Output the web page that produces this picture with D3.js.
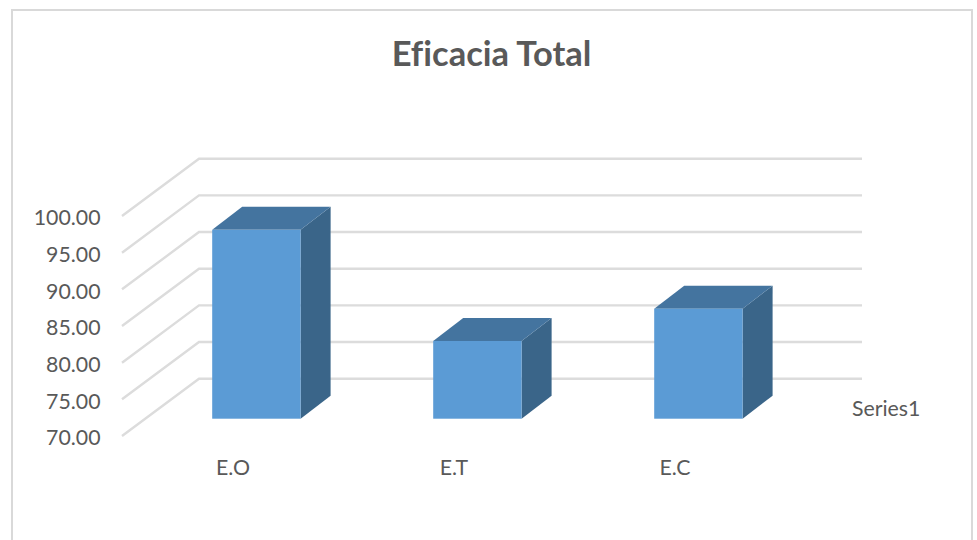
<!DOCTYPE html>
<html><head><meta charset="utf-8">
<script src="https://cdn.jsdelivr.net/npm/d3@7"></script>
<style>html,body{margin:0;padding:0;background:#fff}svg{display:block}text{font-family:Lato,sans-serif;fill:#595959;font-variant-ligatures:none}</style>
</head><body><div id="c"></div>
<script>
const categories = ["E.O","E.T","E.C"];
const values = [95.75, 80.6, 85.0];
const yTicks = [70,75,80,85,90,95,100];
const titleText = "Eficacia Total";
const seriesName = "Series1";

const W=977,H=540;
const svg=d3.select("#c").append("svg").attr("width",W).attr("height",H);
svg.append("rect").attr("x",12).attr("y",10).attr("width",960).attr("height",H+20)
  .attr("fill","#fff").attr("stroke","#d9d9d9").attr("stroke-width",2);

svg.append("text").attr("x",491.5).attr("y",66).attr("text-anchor","middle")
  .attr("font-size",34.5).attr("font-weight",700).text(titleText);

// y scale on the front plane of the 3D box
const y=d3.scaleLinear().domain([70,100]).range([436,216]);
const depth={dx:77,dy:-57.3};
const barOff={dx:23.3,dy:-17.3};
const barDepth={dx:30,dy:-23};
const xBack=d3.scaleBand().domain(categories).range([199,862]).paddingInner(0.6).paddingOuter(0.3);

// gridlines
const grid=svg.append("g").attr("fill","none").attr("stroke","#dcdcdc").attr("stroke-width",2.4);
grid.selectAll("path").data(yTicks).join("path").attr("d",t=>{
  const p=d3.path();
  p.moveTo(122,y(t));
  p.lineTo(122+depth.dx,y(t)+depth.dy);
  p.lineTo(862,y(t)+depth.dy);
  return p.toString();
});

// bars
const shift=depth.dx-barOff.dx;
const bars=svg.append("g").selectAll("g").data(categories.map((c,i)=>({c,v:values[i]}))).join("g");
const geo=d=>{
  const x0=xBack(d.c)-shift+0.6,x1=x0+xBack.bandwidth();
  const yT=y(d.v)+barOff.dy,yB=y(70)+barOff.dy;
  return {x0,x1,yT,yB};
};
const poly=pts=>pts.map(p=>p.join(",")).join(" ");
bars.append("polygon").attr("fill","#3a6589").attr("points",d=>{
  const g=geo(d);
  return poly([[g.x1,g.yT],[g.x1+barDepth.dx,g.yT+barDepth.dy],[g.x1+barDepth.dx,g.yB+barDepth.dy],[g.x1,g.yB]]);
});
bars.append("polygon").attr("fill","#44749f").attr("points",d=>{
  const g=geo(d);
  return poly([[g.x0,g.yT],[g.x0+barDepth.dx,g.yT+barDepth.dy],[g.x1+barDepth.dx,g.yT+barDepth.dy],[g.x1,g.yT]]);
});
bars.append("rect").attr("fill","#5b9bd5")
  .attr("x",d=>geo(d).x0).attr("y",d=>geo(d).yT)
  .attr("width",xBack.bandwidth()).attr("height",d=>geo(d).yB-geo(d).yT);

// axes
const yAxis=d3.axisLeft(y).tickValues(yTicks).tickSize(0).tickPadding(0).tickFormat(d3.format(".2f"));
const gy=svg.append("g").attr("transform","translate(100.5,2)").call(yAxis);
gy.select(".domain").remove();
gy.selectAll("text").attr("font-size",21.3).attr("fill","#595959").style("font-family","Lato,sans-serif");

const xFront=d3.scaleBand().domain(categories).range([122,785]);
const xAxis=d3.axisBottom(xFront).tickSize(0).tickPadding(0);
const gx=svg.append("g").attr("transform","translate(0.5,460)").call(xAxis);
gx.select(".domain").remove();
gx.selectAll("text").attr("font-size",21.3).attr("fill","#595959").style("font-family","Lato,sans-serif");

svg.append("text").attr("x",852).attr("y",416).attr("font-size",21.3).text(seriesName);
</script></body></html>
